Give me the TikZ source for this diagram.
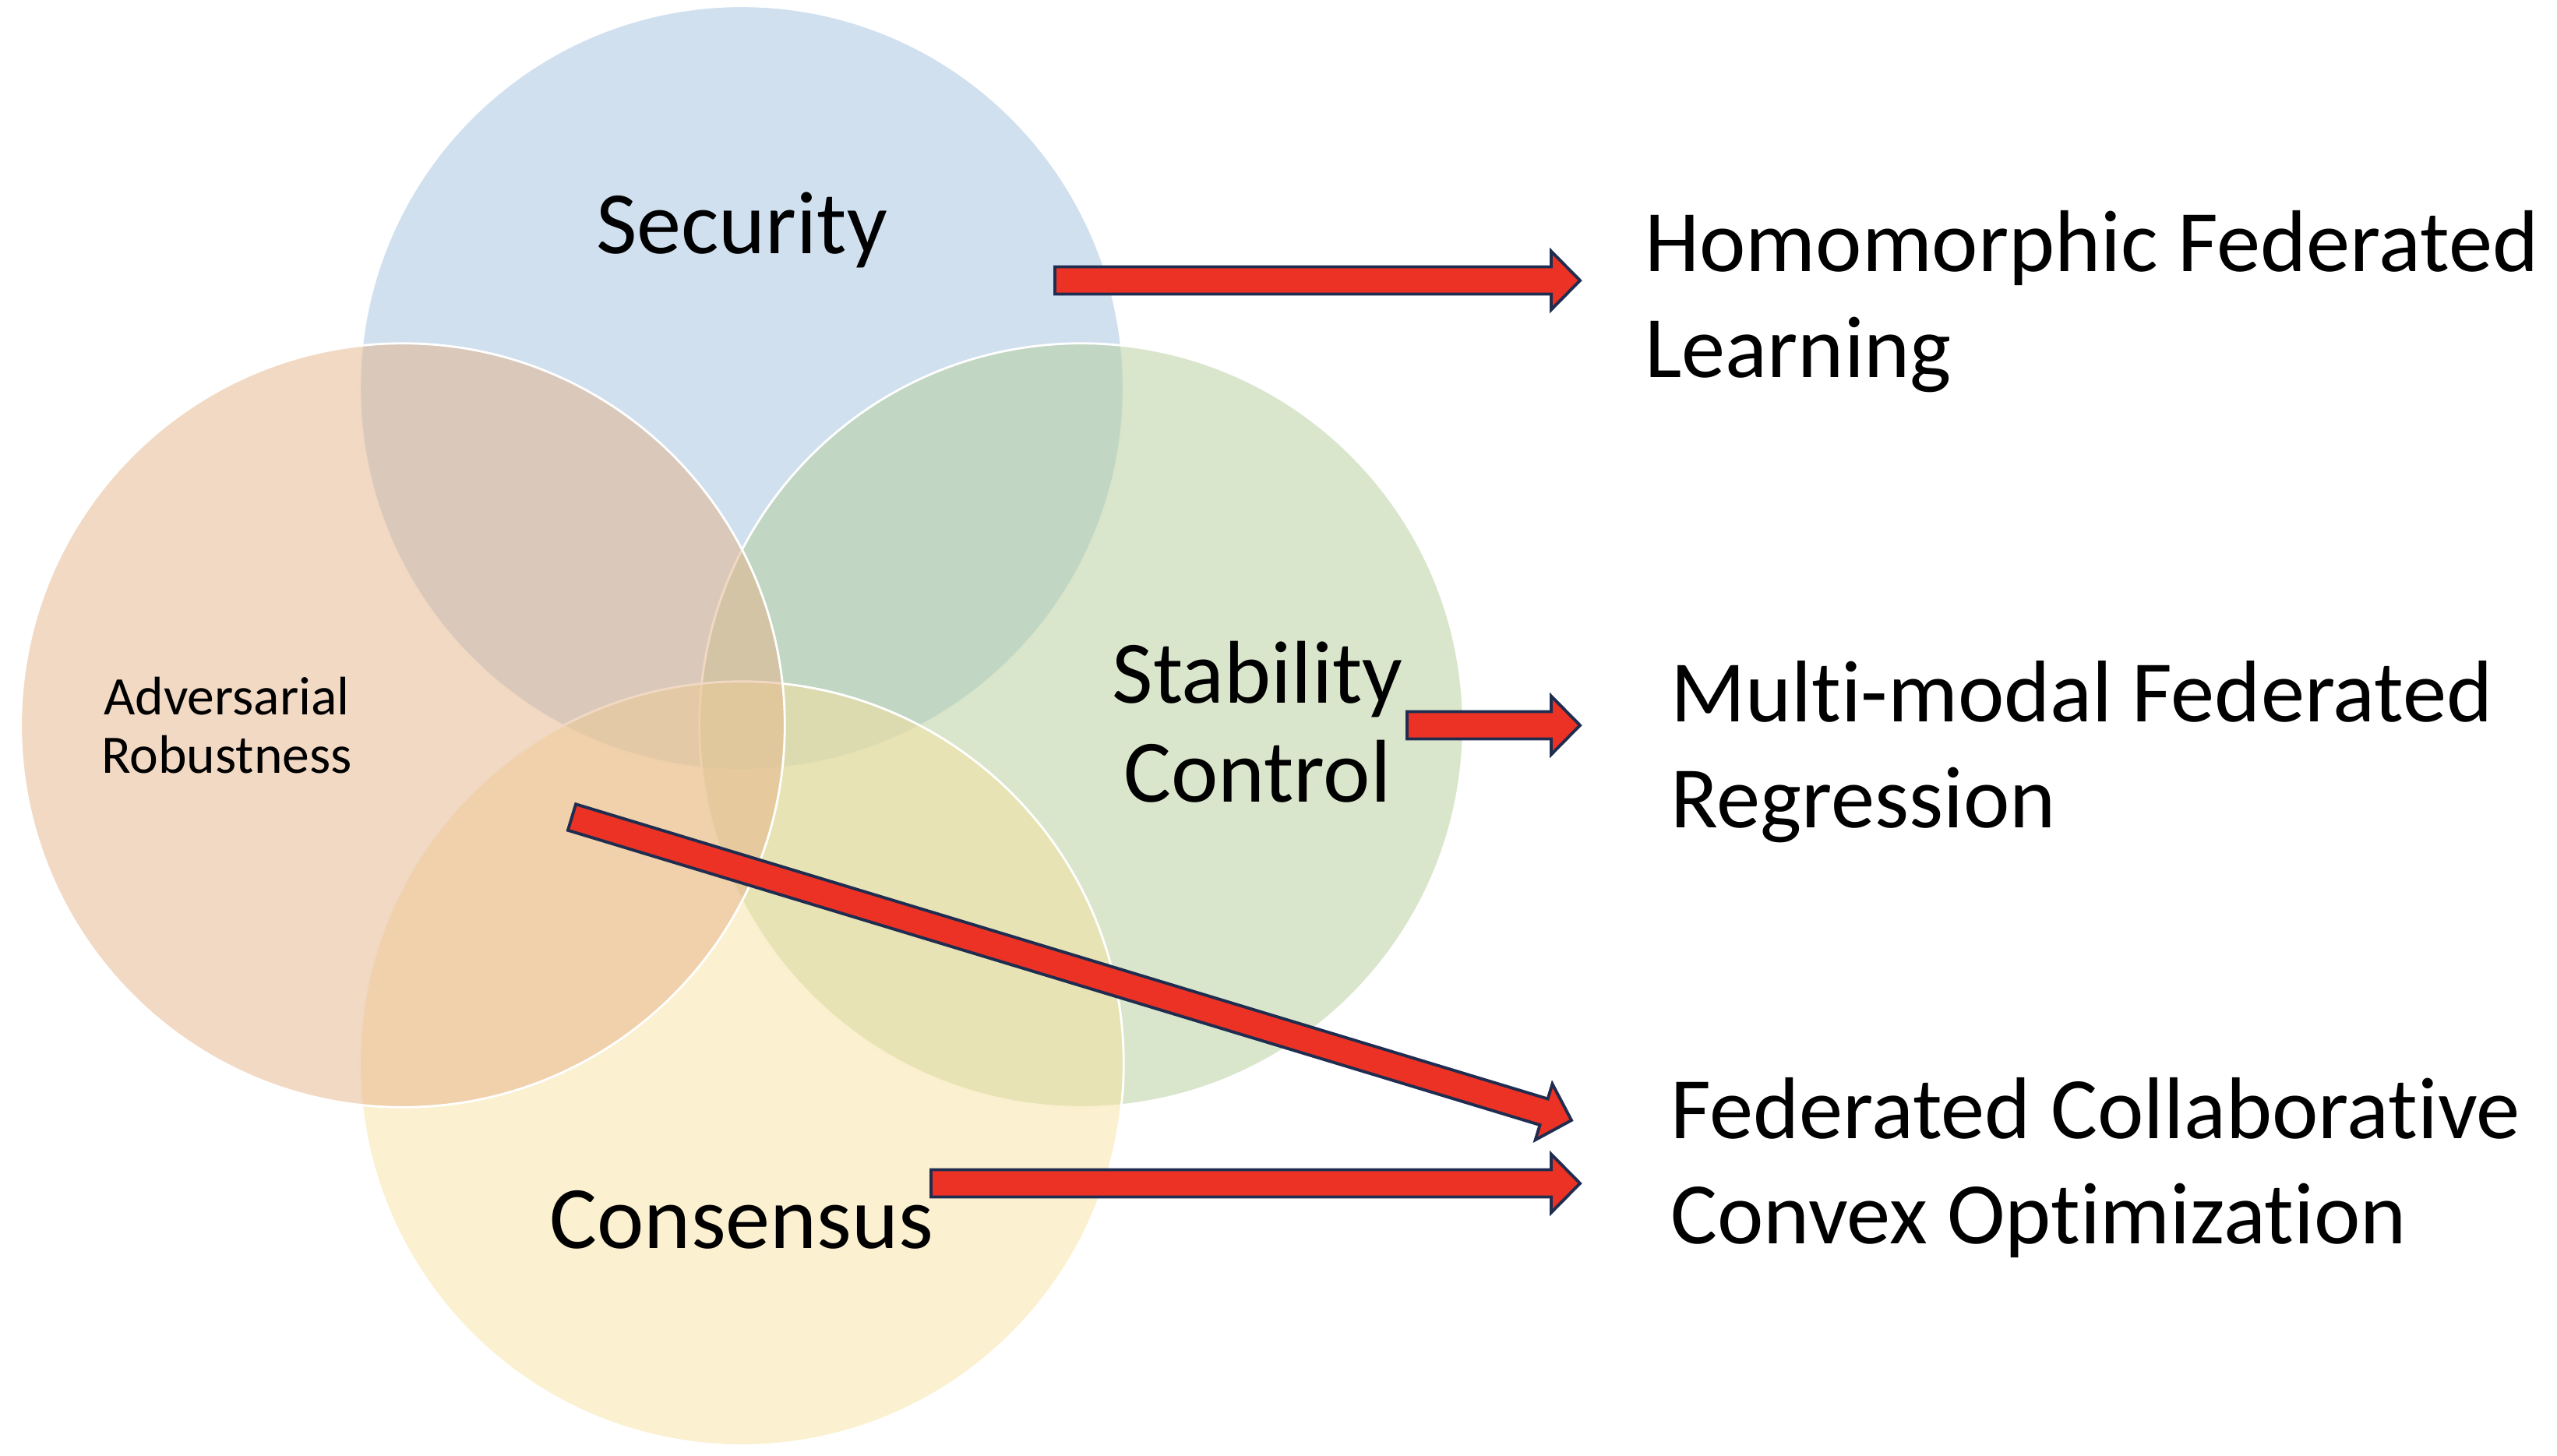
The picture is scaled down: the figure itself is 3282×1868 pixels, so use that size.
\documentclass[tikz,border=0pt]{standalone}
\usepackage{fontspec}
\setmainfont{Carlito}[Ligatures=NoCommon]
\usetikzlibrary{calc}
\usetikzlibrary{positioning}

\definecolor{secblue}{RGB}{161,193,223}
\definecolor{stabgreen}{RGB}{179,205,151}
\definecolor{consyellow}{RGB}{247,225,159}
\definecolor{advorange}{RGB}{229,179,137}
\definecolor{arrowred}{RGB}{236,50,36}
\definecolor{arrownavy}{RGB}{31,45,80}

\newcommand{\shafthalf}{0.175cm}
\newcommand{\headhalf}{0.375cm}
\newcommand{\headlen}{0.37cm}
% block arrow from tail coordinate #1 to tip coordinate #2
\newcommand{\fedarrow}[2]{%
 \coordinate (#1-base) at ($(#2)!\headlen!(#1)$);
 \draw[blockarrow] ($(#1)!\shafthalf!90:(#2)$)
  -- ($(#1-base)!\shafthalf!90:(#2)$) -- ($(#1-base)!\headhalf!90:(#2)$)
  -- (#2)
  -- ($(#1-base)!\headhalf!-90:(#2)$) -- ($(#1-base)!\shafthalf!-90:(#2)$)
  -- ($(#1)!\shafthalf!-90:(#2)$) -- cycle;
}

\begin{document}
\begin{tikzpicture} [x=0.01cm, y=-0.01cm,
  venn/.style={circle, minimum size=9.8cm, inner sep=0, draw=white, line width=0.8pt, fill opacity=0.5},
  biglabel/.style={align=center, font=\fontsize{32.5}{36}\selectfont},
  outcome/.style={anchor=west, align=left, font=\fontsize{32}{38.5}\selectfont},
  blockarrow/.style={fill=arrowred, draw=arrownavy, line width=1.1pt, line join=miter}]
\useasboundingbox (0,0) rectangle (3282,1868);
% the four circles, clockwise from the top
\node[venn, fill=secblue] (security) at (952,498) {};
\node[venn, fill=stabgreen] (stability) at (1388,931) {};
\node[venn, fill=consyellow] (consensus) at (952,1365) {};
\node[venn, fill=advorange] (adversarial) at (517,931) {};
% circle labels
\node[biglabel] (security-text) at (952,295) {Security};
\node[biglabel] (stability-text) at (1614,927) {Stability\\Control};
\node[biglabel] (consensus-text) at (952,1566) {Consensus};
\node[align=center, font=\fontsize{19.8}{21.5}\selectfont] (adversarial-text) at (291,931) {Adversarial\\Robustness};
% outcomes
\node[outcome] (homomorphic) at (2099,387) {Homomorphic Federated\\Learning};
\node[outcome] (multimodal) at (2132,965) {Multi-modal Federated\\Regression};
\node[outcome] (collaborative) at (2132,1499) {Federated Collaborative\\Convex Optimization};
% arrow ends
\coordinate (sec-tail) at (1354,360);
\coordinate (sec-tip) at (2028,360);
\coordinate (stab-tail) at (1806,931);
\coordinate (stab-tip) at (2028,931);
\coordinate (adv-tail) at (734,1049);
\coordinate (adv-tip) at (2017,1438);
\coordinate (cons-tail) at (1195,1519);
\coordinate (cons-tip) at (2028,1519);
\fedarrow{sec-tail}{sec-tip}
\fedarrow{stab-tail}{stab-tip}
\fedarrow{adv-tail}{adv-tip}
\fedarrow{cons-tail}{cons-tip}
\end{tikzpicture}
\end{document}
